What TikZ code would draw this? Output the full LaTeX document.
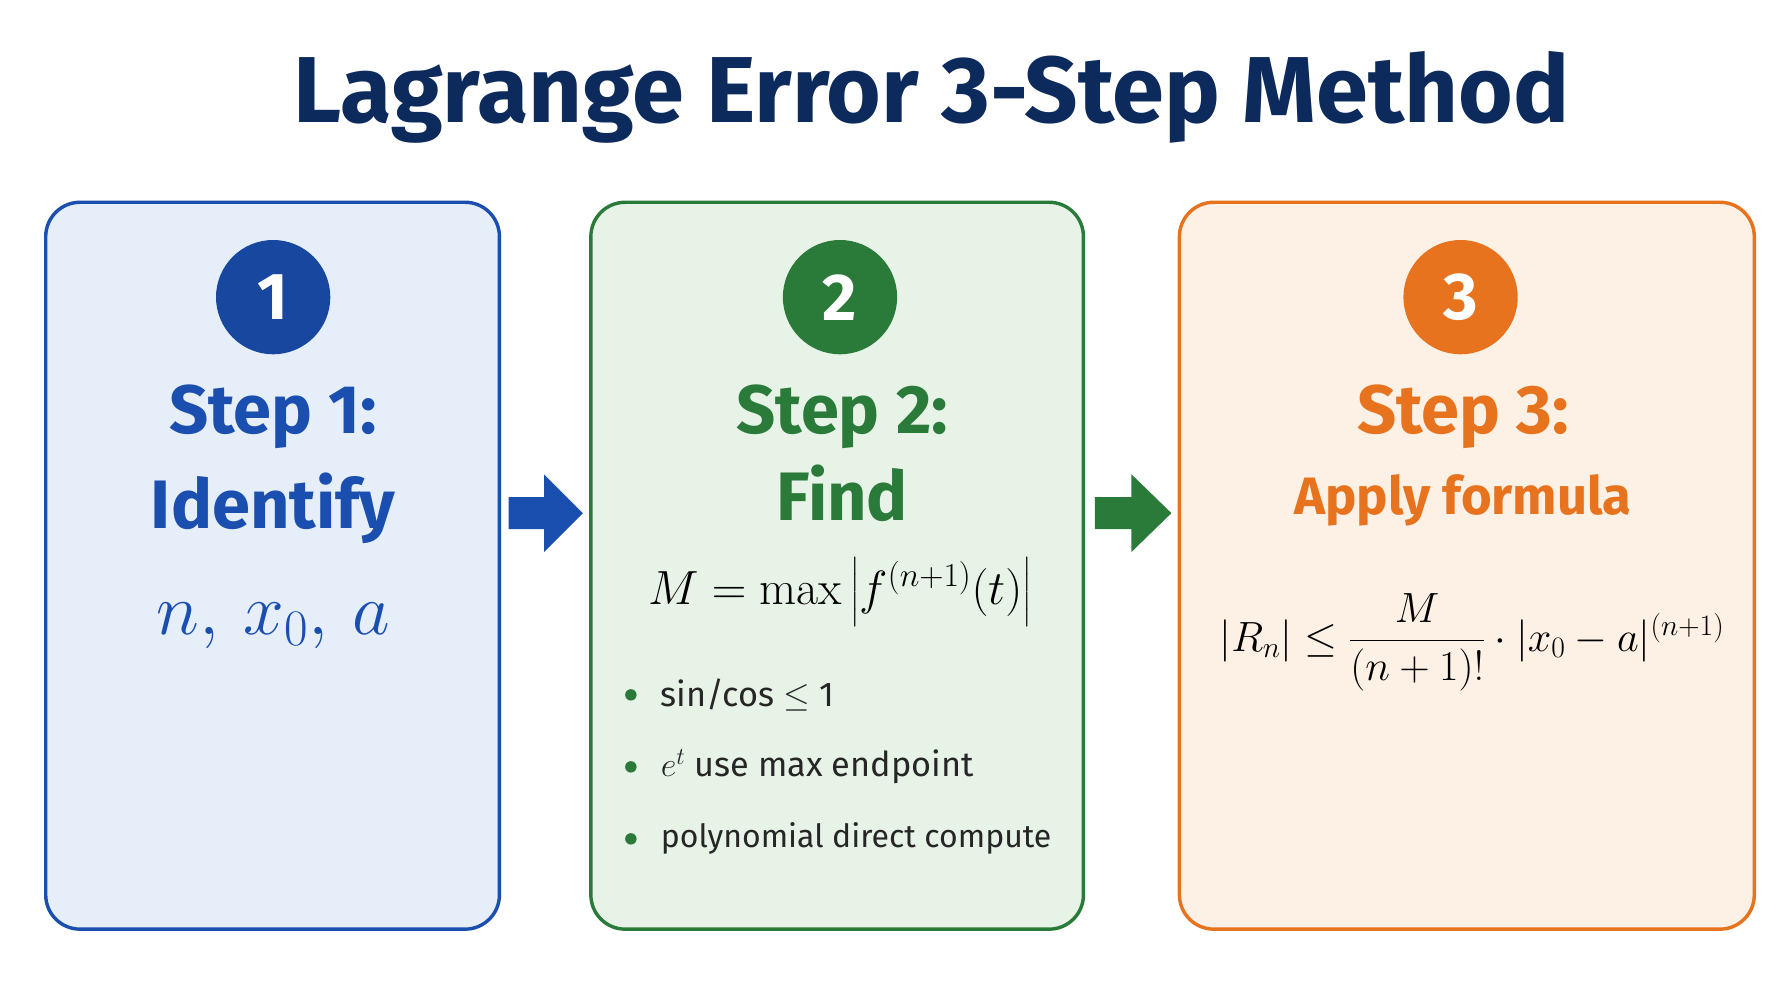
\RequirePackage{fix-cm}
\documentclass[tikz,border=0pt]{standalone}
\usepackage{amsmath}
\usepackage{fontspec}
\setmainfont{Fira Sans}
\setmathrm{Latin Modern Roman}
\definecolor{navy}{HTML}{0D2A5C}
\definecolor{cblue}{HTML}{1A4FB0}
\definecolor{fblue}{HTML}{E6EEFA}
\definecolor{cgreen}{HTML}{2A7A3A}
\definecolor{fgreen}{HTML}{E8F3E8}
\definecolor{corange}{HTML}{E8731E}
\definecolor{forange}{HTML}{FDF0E4}
\newcommand{\fs}[1]{\fontsize{#1}{#1}\selectfont}
\begin{document}
\begin{tikzpicture}[x=1pt,y=-1pt,
  card/.style={draw,line width=3pt,rounded corners=30pt},
  badge/.style={circle,minimum size=100pt,inner sep=0pt,text=white,font=\fs{58}\bfseries},
  steptitle/.style={font=\fs{60}\bfseries,inner sep=0pt},
  bul/.style={circle,inner sep=0pt,minimum size=10pt,fill=cgreen},
  btxt/.style={anchor=west,font=\fs{30},inner sep=0pt,text=black!85}]
\useasboundingbox (0,0) rectangle (1568,882);
\node[font=\fs{82}\bfseries,text=navy] (title) at (815,85) {Lagrange Error 3-Step Method};
\draw[card,cblue,fill=fblue] (40,177) rectangle (437,813);
\draw[card,cgreen,fill=fgreen] (517,177) rectangle (948,813);
\draw[card,corange,fill=forange] (1032,177) rectangle (1535,813);
\node[badge,fill=cblue!90!black] (b1) at (239,260) {1};
\node[badge,fill=cgreen] (b2) at (735,260) {2};
\node[badge,fill=corange] (b3) at (1278,260) {3};
\node[steptitle,text=cblue] (s1) at (239,365) {Step 1:};
\node[steptitle,text=cblue] (s1b) at (239,445) {Identify};
\node[text=cblue,font=\fs{64},inner sep=0pt] (m1) at (239,548) {$n,\,x_0,\,a$};
\node[steptitle,text=cgreen] (s2) at (737,365) {Step 2:};
\node[steptitle,text=cgreen] (s2b) at (737,432) {Find};
\node[font=\fs{42},inner sep=0pt] (m2) at (735,518) {$M=\max\left|f^{(n+1)}(t)\right|$};
\node[bul] (d1) at (552,608) {};
\node[btxt] (t1) at (578,608) {sin/cos $\leq$ 1};
\node[bul] (d2) at (552,671) {};
\node[btxt] (t2) at (578,671) {$e^t$ use max endpoint};
\node[bul] (d3) at (552,734) {};
\node[btxt,font=\fs{28}] (t3) at (578,734) {polynomial direct compute};
\node[steptitle,text=corange] (s3) at (1280,365) {Step 3:};
\node[font=\fs{46}\bfseries,text=corange,inner sep=0pt] (s3b) at (1280,438) {Apply formula};
\node[font=\fs{37},inner sep=0pt] (m3) at (1288,562) {$|R_n|\leq\dfrac{M}{(n+1)!}\cdot|x_0-a|^{(n+1)}$};
\fill[cblue] (445,435) -- (476,435) -- (476,415) -- (510,449) -- (476,483) -- (476,463) -- (445,463) -- cycle;
\fill[cgreen] (958,435) -- (990,435) -- (990,415) -- (1025,449) -- (990,483) -- (990,463) -- (958,463) -- cycle;
\end{tikzpicture}
\end{document}
